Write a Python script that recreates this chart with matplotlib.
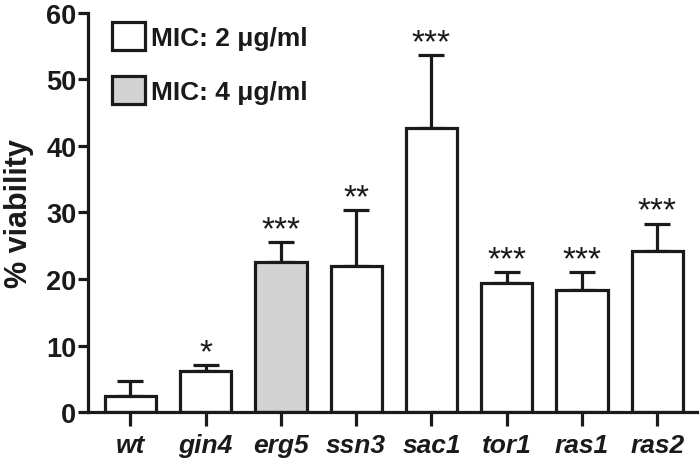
import matplotlib
matplotlib.use("Agg")
from matplotlib import pyplot as plt
from matplotlib.patches import Patch
import numpy as np

strains = ["wt", "gin4", "erg5", "ssn3", "sac1", "tor1", "ras1", "ras2"]
viability = [2.45, 6.2, 22.5, 21.9, 42.7, 19.35, 18.35, 24.25]
sem = [2.25, 0.9, 3.0, 8.5, 10.9, 1.65, 2.65, 4.05]
mic_group = [2, 2, 4, 2, 2, 2, 2, 2]
stars = ["", "*", "***", "**", "***", "***", "***", "***"]

plt.rcParams['font.family'] = ['Liberation Sans', 'DejaVu Sans']

fig = plt.figure(figsize=(7, 4.6), dpi=100)
ax = fig.add_axes([0.126, 0.102, 0.87, 0.868])

x = np.arange(len(strains))
colors = ["#d3d3d3" if m == 4 else "white" for m in mic_group]
lw = 2.3
ink = "#1a1a1a"

ax.errorbar(x, viability, yerr=[np.zeros(len(sem)), sem], fmt="none",
            ecolor=ink, elinewidth=lw, capsize=9.5, capthick=lw, zorder=1)
ax.bar(x, viability, width=0.68, color=colors, edgecolor=ink,
       linewidth=lw, zorder=2)

# significance stars just above the error caps
for xi, v, e, s in zip(x, viability, sem, stars):
    if s:
        ax.text(xi, v + e + 0.6, s, ha="center", va="baseline", fontsize=24,
                color=ink)

ax.set_xlim(-0.56, 7.53)
ax.set_ylim(0, 60)
ax.set_yticks([0, 10, 20, 30, 40, 50, 60])
ax.set_xticks(x)
ax.set_xticklabels(strains, fontsize=19, fontweight="bold", style="italic")
ax.tick_params(axis="y", labelsize=19.5, width=lw, length=7.5, pad=1, colors=ink)
ax.tick_params(axis="x", width=lw, length=10, pad=5, colors=ink)
for lab in ax.get_yticklabels():
    lab.set_fontweight("bold")
ax.set_ylabel("% viability", fontsize=22, fontweight="bold", labelpad=9, color=ink)

for side in ["top", "right"]:
    ax.spines[side].set_visible(False)
for side in ["left", "bottom"]:
    ax.spines[side].set_linewidth(lw)
    ax.spines[side].set_color(ink)

handles = [Patch(facecolor="white", edgecolor=ink, linewidth=lw),
           Patch(facecolor="#d3d3d3", edgecolor=ink, linewidth=lw)]
ax.legend(handles, ["MIC: 2 μg/ml", "MIC: 4 μg/ml"], loc="upper left",
          bbox_to_anchor=(0.005, 1.03), frameon=False,
          prop={"size": 19, "weight": "bold"}, labelcolor=ink,
          handlelength=1.25, handleheight=1.25, handletextpad=0.2,
          labelspacing=1.0, borderpad=0.3)

fig.savefig("out.png", dpi=100)
